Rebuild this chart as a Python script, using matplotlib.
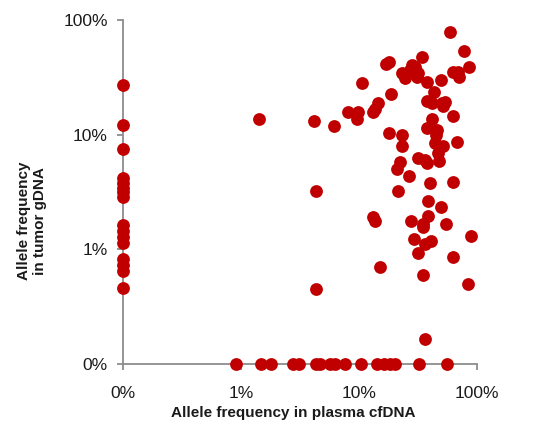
import matplotlib
matplotlib.use("Agg")
import matplotlib.pyplot as plt

# Allele frequencies in percent; 0 means "not detected" (drawn on the 0% line)
plasma_cfdna = [
    # detected in tumor only (cfDNA = 0)
    0, 0, 0, 0, 0, 0, 0, 0, 0, 0, 0, 0, 0, 0, 0, 0,
    # detected in plasma only (gDNA = 0)
    0.90, 1.47, 1.80, 2.77, 3.12, 4.30, 4.67, 5.68, 6.26, 7.61, 10.4, 14.1, 16.4, 18.3, 20.2, 32.4, 55.4,
    # detected in both
    59.0, 77.6, 86.1, 34.0, 16.9, 18.1, 10.7, 18.7, 28.0, 29.8,
    27.1, 31.8, 23.0, 24.5, 30.8, 37.5, 49.5, 43.2, 63.0, 69.5,
    70.8, 37.5, 41.3, 50.2, 53.6, 51.8, 63.0, 41.8, 37.5, 45.5,
    45.0, 44.1, 51.8, 46.5, 47.9, 67.7, 17.9, 23.0, 23.0, 31.8,
    36.3, 37.5, 22.2, 20.9, 26.5, 40.0, 63.0, 21.3, 38.7, 4.32,
    4.16, 6.1, 8.1, 9.86, 9.68, 13.1, 14.6, 13.7, 1.41, 49.5,
    38.7, 13.1, 13.7, 27.4, 34.7, 35.1, 54.6, 88.9, 29.4, 40.5,
    36.3, 31.4, 63.0, 15.1, 35.1, 4.32, 83.4, 36.3,
]
tumor_gdna = [
    27.0, 12.1, 7.5, 4.2, 3.8, 3.4, 3.16, 2.86, 1.63, 1.44, 1.28, 1.14, 0.82, 0.73, 0.65, 0.46,
    0, 0, 0, 0, 0, 0, 0, 0, 0, 0, 0, 0, 0, 0, 0, 0, 0,
    78.9, 53.6, 38.6, 47.8, 41.3, 42.9, 28.0, 22.5, 40.4, 39.1,
    36.6, 34.2, 34.2, 31.0, 32.0, 28.9, 29.9, 23.5, 34.9, 35.3,
    31.6, 19.6, 18.9, 18.7, 19.4, 17.8, 14.6, 13.7, 11.5, 11.0,
    9.93, 8.40, 8.0, 6.87, 5.92, 8.57, 10.3, 9.93, 7.96, 6.21,
    6.01, 5.62, 5.81, 5.01, 4.36, 3.76, 3.86, 3.24, 2.66, 3.24,
    13.1, 11.8, 15.7, 15.8, 13.7, 15.7, 18.9, 16.6, 13.7, 2.35,
    1.96, 1.92, 1.77, 1.77, 1.65, 1.57, 1.65, 1.32, 1.23, 1.19,
    1.11, 0.93, 0.86, 0.70, 0.60, 0.45, 0.50, 0.165,
]
tick_values = [0.1, 1, 10, 100]
tick_labels = ["0%", "1%", "10%", "100%"]
zero_position = 0.1  # "0%" is drawn one decade below 1%

x_plot = [v if v > 0 else zero_position for v in plasma_cfdna]
y_plot = [v if v > 0 else zero_position for v in tumor_gdna]

plt.rcParams["font.family"] = ["Liberation Sans", "DejaVu Sans"]

fig = plt.figure(figsize=(5.4, 4.22), dpi=100)
ax = fig.add_axes([123 / 540, 1 - 364 / 422, 354 / 540, 344 / 422])

ax.scatter(x_plot, y_plot, s=85, color="#C00000", linewidths=0,
           zorder=3, clip_on=False)

ax.set_xscale("log")
ax.set_yscale("log")
ax.set_xlim(0.1, 100)
ax.set_ylim(0.1, 100)
ax.set_xticks(tick_values)
ax.set_xticklabels(tick_labels)
ax.set_yticks(tick_values)
ax.set_yticklabels(tick_labels)
ax.minorticks_off()

grey = "#8C8C8C"
for side in ("top", "right"):
    ax.spines[side].set_visible(False)
for side in ("left", "bottom"):
    ax.spines[side].set_color(grey)
    ax.spines[side].set_linewidth(1.3)

ax.tick_params(axis="both", which="major", direction="out", length=4,
               width=1.3, color=grey, labelsize=12.5, labelcolor="#1a1a1a")
ax.tick_params(axis="x", pad=12)
ax.tick_params(axis="y", pad=7)

fig.text((166 + 421) / 2 / 540, 1 - 413 / 422, "Allele frequency in plasma cfDNA",
         ha="center", va="center", fontsize=11, fontweight="bold", color="#1a1a1a")
fig.text(32 / 540, 1 - 221 / 422, "Allele frequency\nin tumor gDNA",
         ha="center", va="center", rotation=90, multialignment="center",
         fontsize=11, fontweight="bold", color="#1a1a1a", linespacing=1.15)

fig.savefig("out.png", dpi=100)
